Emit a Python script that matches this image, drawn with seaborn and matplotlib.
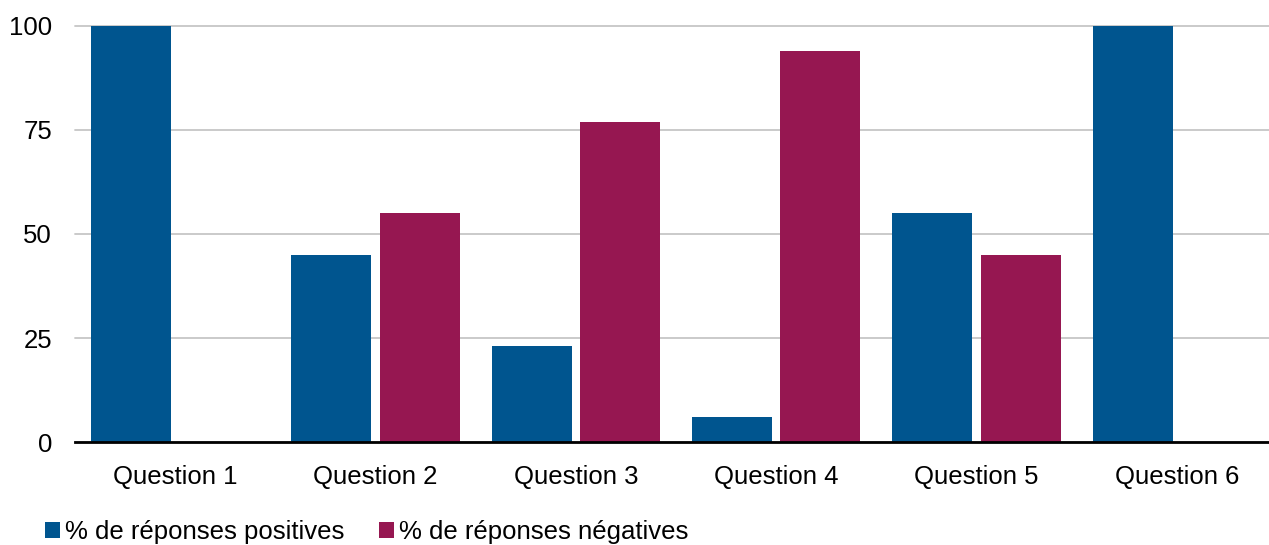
import matplotlib
matplotlib.use("Agg")
import matplotlib.pyplot as plt
from matplotlib.patches import Patch
import pandas as pd
import seaborn as sns

# Survey results per question (percent)
questions = ["Question 1", "Question 2", "Question 3", "Question 4", "Question 5", "Question 6"]
positive = [100, 45, 23, 6, 55, 100]
negative = [0, 55, 77, 94, 45, 0]
series_names = ["% de réponses positives", "% de réponses négatives"]
y_ticks = [0, 25, 50, 75, 100]

colors = ["#00558F", "#961751"]

df = pd.DataFrame({
    "question": questions * 2,
    "value": positive + negative,
    "serie": [series_names[0]] * len(questions) + [series_names[1]] * len(questions),
})

sns.set_theme(style="white")
plt.rcParams["font.family"] = ["Liberation Sans", "DejaVu Sans"]

W, H = 1269, 545
fig = plt.figure(figsize=(W / 100, H / 100), dpi=100)
ax = fig.add_axes([75 / W, (H - 442) / H, 1202 / W, 416 / H])

sns.barplot(
    data=df, x="question", y="value", hue="serie", order=questions,
    hue_order=series_names, palette=colors, width=0.88, gap=0.0909,
    linewidth=0, saturation=1, legend=False, ax=ax,
)

ax.set_xlim(-0.5, len(questions) - 0.5)
ax.set_ylim(0, 100)
ax.set_yticks(y_ticks)
ax.set_xlabel("")
ax.set_ylabel("")

ax.yaxis.grid(True, color="#C6C6C6", linewidth=1.3)
ax.set_axisbelow(True)
for gl in ax.get_ygridlines():
    gl.set_clip_on(False)

for side in ["top", "right", "left"]:
    ax.spines[side].set_visible(False)
ax.spines["bottom"].set_color("black")
ax.spines["bottom"].set_linewidth(2)
ax.spines["bottom"].set_zorder(5)

ax.tick_params(axis="both", length=0, labelsize=18.5, colors="black")
ax.tick_params(axis="y", pad=16.5)
ax.tick_params(axis="x", pad=16.5)

handles = [Patch(facecolor=c, edgecolor="none") for c in colors]
fig.legend(
    handles, series_names, loc="center left",
    bbox_to_anchor=(45 / W, (H - 532.5) / H), ncol=2, frameon=False,
    fontsize=18.5, labelcolor="black", handlelength=0.58, handleheight=0.58,
    handletextpad=0.2, columnspacing=1.35, borderpad=0, borderaxespad=0,
)

fig.savefig("out.png", dpi=100)
